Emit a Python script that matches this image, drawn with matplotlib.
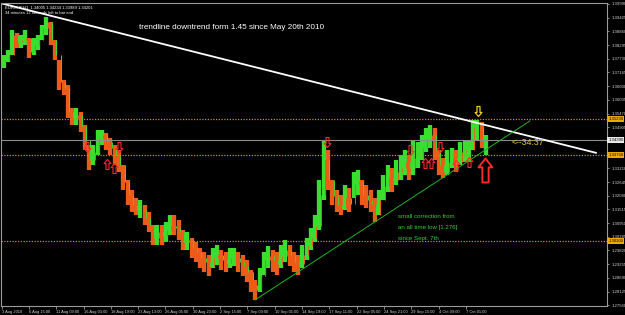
import matplotlib
matplotlib.use("Agg")
import matplotlib.pyplot as plt
from matplotlib.path import Path
from matplotlib.transforms import blended_transform_factory

# EURCHF H1, grouped into 10-bar candles
BARS_PER_CANDLE = 10
first_open = 1.3760
highs = [1.3788, 1.3809, 1.3891, 1.3879, 1.3871, 1.3891, 1.3858, 1.3858, 1.3871, 1.3912,
         1.3945, 1.3924, 1.3850, 1.3768, 1.3685, 1.3665, 1.3570, 1.3570, 1.3553, 1.3500,
         1.3417, 1.3417, 1.3479, 1.3479, 1.3467, 1.3446, 1.3417, 1.3396, 1.3335, 1.3273,
         1.3231, 1.3198, 1.3190, 1.3170, 1.3141, 1.3087, 1.3087, 1.3087, 1.3100, 1.3128,
         1.3128, 1.3108, 1.3067, 1.3058, 1.3034, 1.3017, 1.2992, 1.2976, 1.2963, 1.2992,
         1.3005, 1.2984, 1.2976, 1.2992, 1.2992, 1.2976, 1.2963, 1.2943, 1.2902, 1.2860,
         1.2910, 1.2976, 1.3001, 1.2984, 1.2976, 1.3005, 1.3025, 1.3005, 1.2976, 1.2963,
         1.3005, 1.3034, 1.3075, 1.3128, 1.3273, 1.3438, 1.3396, 1.3273, 1.3231, 1.3211,
         1.3252, 1.3240, 1.3306, 1.3314, 1.3273, 1.3252, 1.3231, 1.3198, 1.3231, 1.3293,
         1.3335, 1.3322, 1.3355, 1.3376, 1.3396, 1.3376, 1.3438, 1.3429, 1.3458, 1.3487,
         1.3500, 1.3487, 1.3396, 1.3363, 1.3396, 1.3405, 1.3396, 1.3429, 1.3438, 1.3438,
         1.3520, 1.3520, 1.3512, 1.3458]
lows = [1.3735, 1.3759, 1.3788, 1.3817, 1.3817, 1.3829, 1.3776, 1.3788, 1.3809, 1.3850,
        1.3871, 1.3829, 1.3768, 1.3644, 1.3623, 1.3528, 1.3500, 1.3500, 1.3471, 1.3396,
        1.3314, 1.3335, 1.3376, 1.3417, 1.3396, 1.3376, 1.3335, 1.3306, 1.3231, 1.3170,
        1.3141, 1.3128, 1.3116, 1.3087, 1.3058, 1.3005, 1.3005, 1.3005, 1.3017, 1.3046,
        1.3046, 1.3025, 1.2984, 1.2984, 1.2951, 1.2935, 1.2910, 1.2893, 1.2877, 1.2910,
        1.2922, 1.2902, 1.2893, 1.2910, 1.2918, 1.2893, 1.2877, 1.2852, 1.2811, 1.2778,
        1.2811, 1.2881, 1.2910, 1.2893, 1.2881, 1.2910, 1.2935, 1.2918, 1.2893, 1.2881,
        1.2910, 1.2943, 1.2984, 1.3017, 1.3067, 1.3190, 1.3231, 1.3170, 1.3141, 1.3128,
        1.3149, 1.3141, 1.3198, 1.3211, 1.3170, 1.3157, 1.3141, 1.3100, 1.3128, 1.3190,
        1.3223, 1.3223, 1.3252, 1.3273, 1.3293, 1.3273, 1.3293, 1.3322, 1.3355, 1.3388,
        1.3405, 1.3355, 1.3293, 1.3281, 1.3293, 1.3322, 1.3306, 1.3335, 1.3347, 1.3347,
        1.3396, 1.3438, 1.3405, 1.3376]
closes = [1.3768, 1.3788, 1.3871, 1.3842, 1.3850, 1.3858, 1.3801, 1.3829, 1.3850, 1.3900,
          1.3924, 1.3850, 1.3788, 1.3677, 1.3652, 1.3553, 1.3528, 1.3541, 1.3495, 1.3438,
          1.3355, 1.3388, 1.3446, 1.3458, 1.3429, 1.3405, 1.3376, 1.3335, 1.3264, 1.3211,
          1.3170, 1.3149, 1.3149, 1.3116, 1.3087, 1.3034, 1.3058, 1.3042, 1.3067, 1.3083,
          1.3075, 1.3058, 1.3017, 1.3025, 1.2992, 1.2976, 1.2951, 1.2935, 1.2918, 1.2951,
          1.2963, 1.2943, 1.2930, 1.2951, 1.2951, 1.2935, 1.2918, 1.2893, 1.2840, 1.2819,
          1.2877, 1.2943, 1.2959, 1.2943, 1.2926, 1.2959, 1.2984, 1.2963, 1.2935, 1.2926,
          1.2963, 1.3001, 1.3034, 1.3083, 1.3211, 1.3355, 1.3273, 1.3207, 1.3170, 1.3157,
          1.3198, 1.3174, 1.3256, 1.3264, 1.3211, 1.3190, 1.3174, 1.3128, 1.3190, 1.3248,
          1.3281, 1.3273, 1.3306, 1.3322, 1.3347, 1.3322, 1.3363, 1.3363, 1.3405, 1.3438,
          1.3458, 1.3396, 1.3335, 1.3306, 1.3347, 1.3363, 1.3347, 1.3388, 1.3396, 1.3396,
          1.3487, 1.3487, 1.3438, 1.3439]

date_labels = ["3 Aug 2010", "6 Aug 15:00", "11 Aug 09:00", "16 Aug 03:00", "18 Aug 19:00",
               "23 Aug 13:00", "26 Aug 05:00", "30 Aug 23:00", "2 Sep 15:00", "7 Sep 09:00",
               "10 Sep 01:00", "14 Sep 19:00", "17 Sep 11:00", "22 Sep 05:00", "24 Sep 21:00",
               "29 Sep 15:00", "4 Oct 09:00", "7 Oct 01:00"]
BARS_PER_LABEL = 64

price_tick_start = 1.2756
price_tick_step = 0.00565
n_price_ticks = 23
hidden_price_ticks = [11, 12]

levels = [1.3523, 1.3375, 1.3020]
current_price = 1.3439
downtrend_x, downtrend_y = [-4, 1395], [1.4003, 1.3384]
uptrend_x, uptrend_y = [594, 1238], [1.2778, 1.3516]

down_arrow_x = [200, 275, 763, 957, 1027]
down_arrow_y = [1.3409, 1.3409, 1.3429, 1.3396, 1.3409]
up_arrow_x = [247, 263, 992, 1006, 1065, 1095]
up_arrow_y = [1.3339, 1.3322, 1.3343, 1.3343, 1.3335, 1.3347]
top_arrow = (1117, 1.3557)
big_arrow = (1133, 1.3314)

BULL = "#3ade2e"
BEAR = "#ec5c18"
GRID_GRAY = "#9a9a9a"


def arrow_path(shaft, head, neck, down=False):
    s = -1 if down else 1
    verts = [(-shaft, -0.5 * s), (shaft, -0.5 * s), (shaft, neck * s), (head, neck * s),
             (0, 0.5 * s), (-head, neck * s), (-shaft, neck * s), (-shaft, -0.5 * s)]
    return Path(verts, closed=True)


fig = plt.figure(figsize=(6.25, 3.15), dpi=100, facecolor="black")
ax = fig.add_axes([1 / 625, 1 - 306 / 315, 606 / 625, 303 / 315], facecolor="black")

# candles: range line coloured by direction, thin body strip in the other colour
opens = [first_open] + closes[:-1]
times = [BARS_PER_CANDLE * j + 5 for j in range(len(closes))]
for t, o, h, l, c in zip(times, opens, highs, lows, closes):
    col = BULL if c >= o else BEAR
    other = BEAR if c >= o else BULL
    ax.vlines(t, l, h, color=col, lw=3.1)
    ax.vlines(t + 3, min(o, c), max(o, c), color=other, lw=0.7)

# horizontal levels
for lv in levels:
    ax.axhline(lv, color="#d08a10", lw=0.9, ls=(0, (1, 1.2)))
ax.axhline(current_price, color="#8c8c8c", lw=0.8)

# trendlines
ax.plot(downtrend_x, downtrend_y, color="white", lw=1.3, solid_capstyle="butt")
ax.plot(uptrend_x, uptrend_y, color="#22b322", lw=0.7)

# arrows
small_up = arrow_path(0.15, 0.34, 0.1)
small_down = arrow_path(0.15, 0.34, 0.1, down=True)
ax.plot(down_arrow_x, down_arrow_y, ls="none", marker=small_down, ms=7.2,
        mfc="none", mec="#ff2a2a", mew=0.8)
ax.plot(up_arrow_x, up_arrow_y, ls="none", marker=small_up, ms=7.2,
        mfc="none", mec="#ff2a2a", mew=0.8)
ax.plot(*top_arrow, ls="none", marker=small_down, ms=7.2,
        mfc="none", mec="#f0cc20", mew=0.9)
ax.plot(*big_arrow, ls="none", marker=arrow_path(0.13, 0.29, 0.13), ms=17.3,
        mfc="none", mec="#ff2a2a", mew=1.4)

# texts
ax.text(0.2277, 0.9175, "trendline downtrend form 1.45 since May 20th 2010",
        transform=ax.transAxes, color="white", fontsize=5.9,
        family="Liberation Sans", va="center", ha="left")
for i, line in enumerate(["small correction from", "an all time low [1.276]", "since Sept. 7th"]):
    ax.text(0.655, 0.2947 - i * 0.0356, line, transform=ax.transAxes,
            color="#3ccc3c", fontsize=4.4, family="Liberation Sans", va="center")
ax.text(0.8432, 0.538, "<--34:37", transform=ax.transAxes, color="#e8c81e",
        fontsize=6.3, family="Liberation Sans", va="center")
ax.text(0.007, 0.984, "EURCHF,H1  1.34005 1.34234 1.33989 1.34201", transform=ax.transAxes,
        color="white", fontsize=3.0, family="Liberation Sans", va="center")
ax.text(0.007, 0.968, "34 minutes 12 seconds left to bar end", transform=ax.transAxes,
        color="white", fontsize=3.0, family="Liberation Sans", va="center")

# axes
ax.set_xlim(-1.6, 1419)
ax.set_ylim(1.2753, 1.4003)
ax.set_xticks([BARS_PER_LABEL * k for k in range(len(date_labels))])
ax.set_xticklabels(date_labels, ha="left", family="Liberation Sans")
price_ticks = [price_tick_start + price_tick_step * k for k in range(n_price_ticks)]
ax.yaxis.tick_right()
ax.set_yticks(price_ticks)
ax.set_yticklabels(["" if k in hidden_price_ticks else f"{p:.5f}"
                    for k, p in enumerate(price_ticks)], family="Liberation Sans")
ax.tick_params(axis="x", length=2.2, width=0.6, color=GRID_GRAY, pad=0.6,
               labelsize=2.9, labelcolor="#d0d0d0")
ax.tick_params(axis="y", length=1.5, width=0.6, color=GRID_GRAY, pad=1.5,
               labelsize=3.1, labelcolor="#d0d0d0")
for side in ax.spines.values():
    side.set_color(GRID_GRAY)
    side.set_linewidth(0.8)

# price boxes on the right scale
tr = blended_transform_factory(ax.transAxes, ax.transData)
for lv in levels:
    ax.text(1.002, lv, f"{lv:.5f}", transform=tr, fontsize=3.1, color="black",
            family="Liberation Sans", va="center", ha="left",
            bbox=dict(boxstyle="square,pad=0.2", fc="#f0a800", ec="none"))
ax.text(1.002, current_price, f"{current_price:.5f}", transform=tr, fontsize=3.1,
        color="black", family="Liberation Sans", va="center", ha="left",
        bbox=dict(boxstyle="square,pad=0.2", fc="#e8e8e8", ec="none"))

fig.savefig("out.png", dpi=100, facecolor="black")
